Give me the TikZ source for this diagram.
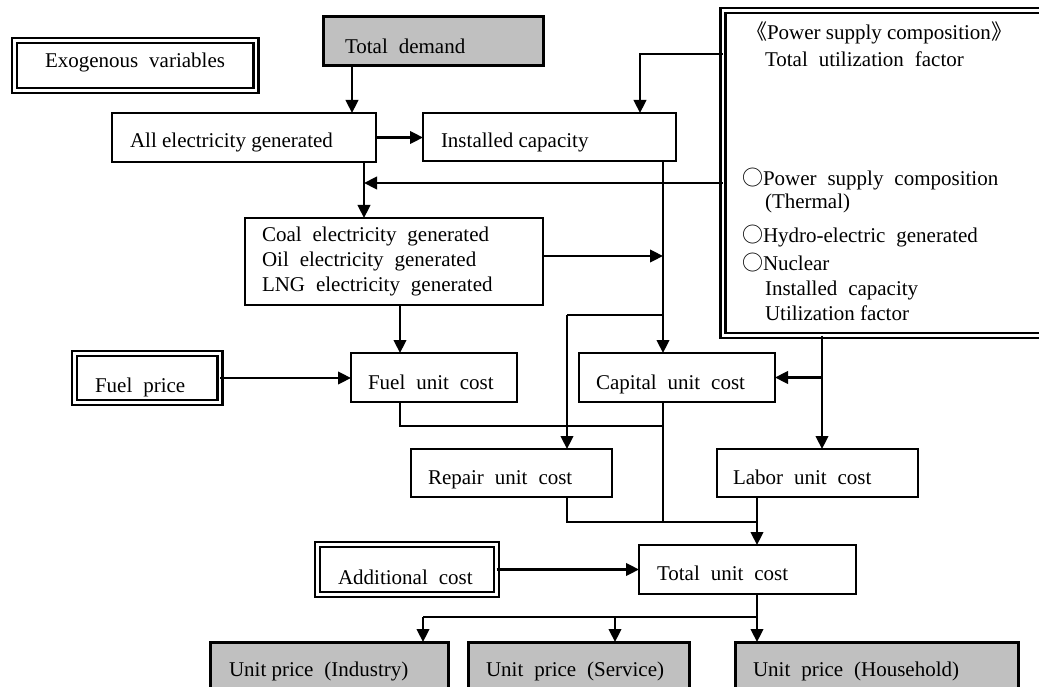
\documentclass[tikz,border=0pt]{standalone}
\usepackage{fontspec}
\setmainfont{Liberation Serif}
\newfontfamily\cjk{Noto Sans CJK JP}
\usetikzlibrary{arrows.meta}
\definecolor{boxgray}{RGB}{192,192,192}
\newcommand\W{\spaceskip=0.52em plus 0.1em minus 0.1em\relax}
\newcommand\N{\spaceskip=0.25em plus 0.1em minus 0.05em\relax}
\begin{document}
\begin{tikzpicture}[x=1pt,y=-1pt,
  every node/.style={font=\fontsize{21pt}{25pt}\selectfont, outer sep=0pt},
  bx/.style={draw, line width=1.3pt, rectangle, anchor=north west, align=left, inner ysep=0pt, fill=white},
  gbx/.style={bx, fill=boxgray, line width=3pt},
  dbx/.style={bx, double, double distance=2.6pt, line width=2.3pt},
  tb/.style 2 args={text height=#1, text depth=#2},
  arr/.style={line width=2.4pt, -{Triangle[length=13pt,width=12.5pt]}},
  ln/.style={line width=1.4pt},
  txt/.style={anchor=base west, inner sep=0pt}
]
\useasboundingbox (0,0) rectangle (1039,687);

% ---------- boxes ----------
\node[dbx, tb={22.5pt}{17.5pt}, minimum height=50pt, inner xsep=30.5pt, text width=180.5pt] (exo) at (14.5,40.5) {\mbox{\W Exogenous variables}};
\node[gbx, tb={32pt}{8pt}, minimum height=49pt, inner xsep=22pt, text width=176pt] (td) at (323,16.7) {\mbox{\W Total demand}};
\node[bx, tb={30.5pt}{9.5pt}, minimum height=49pt, inner xsep=18pt, text width=228pt] (ae) at (112,113) {\mbox{\N All electricity generated}};
\node[bx, tb={31pt}{9pt}, minimum height=48pt, inner xsep=18pt, text width=217pt] (ic) at (423,113) {\mbox{\N Installed capacity}};
\node[bx, minimum height=87pt, inner xsep=17pt, text width=264pt] (coal) at (245,218)
  {\mbox{\W Coal electricity generated}\\\mbox{\W Oil electricity generated}\\\mbox{\W LNG electricity generated}};
\node[dbx, tb={34.3pt}{5.7pt}, minimum height=49pt, inner xsep=20.5pt, text width=104.5pt] (fp) at (74.5,353.5) {\mbox{\W Fuel price}};
\node[bx, tb={31.5pt}{8.5pt}, minimum height=49pt, inner xsep=17pt, text width=132pt] (fuc) at (351,353) {\mbox{\W Fuel unit cost}};
\node[bx, tb={31.5pt}{8.5pt}, minimum height=49pt, inner xsep=17pt, text width=162pt] (cap) at (579,353) {\mbox{\W Capital unit cost}};
\node[bx, tb={31.3pt}{8.7pt}, minimum height=48pt, inner xsep=17pt, text width=167pt] (rep) at (411,449) {\mbox{\W Repair unit cost}};
\node[bx, tb={31.3pt}{8.7pt}, minimum height=48pt, inner xsep=16pt, text width=169pt] (lab) at (717,449) {\mbox{\W Labor unit cost}};
\node[dbx, tb={34.5pt}{5.5pt}, minimum height=50pt, inner xsep=20.5pt, text width=138pt] (ac) at (317.5,544.5) {\mbox{\W Additional cost}};
\node[bx, tb={30.5pt}{9.5pt}, minimum height=49pt, inner xsep=18pt, text width=181pt] (tuc) at (639,545) {\mbox{\W Total unit cost}};
\node[gbx, tb={23.7pt}{16.3pt}, minimum height=62pt, inner xsep=19pt, text width=200pt] (ind) at (210,642) {\mbox{{\N Unit price}\W{} (Industry)}};
\node[gbx, tb={23.7pt}{16.3pt}, minimum height=62pt, inner xsep=18pt, text width=185pt] (ser) at (468,642) {\mbox{\W Unit price (Service)}};
\node[gbx, tb={23.7pt}{16.3pt}, minimum height=62pt, inner xsep=18pt, text width=247pt] (hh) at (735,642) {\mbox{\W Unit price (Household)}};

% ---------- power supply composition box ----------
\node[dbx, minimum width=322pt, minimum height=325pt, inner sep=0pt] (psc) at (723,10.5) {};
\node[txt] (p1) at (746,39.3) {\N{\cjk 《}Power supply composition{\cjk 》}};
\node[txt] (p2) at (765,66.7) {\W Total utilization factor};
\node[txt] (p3) at (742,185.7) {\W{\cjk ○}Power supply composition};
\node[txt] (p4) at (765,209) {(Thermal)};
\node[txt] (p5) at (742,243) {\W{\cjk ○}Hydro-electric generated};
\node[txt] (p6) at (742,270.7) {{\cjk ○}Nuclear};
\node[txt] (p7) at (765,295) {\W Installed capacity};
\node[txt] (p8) at (765,320) {\N Utilization factor};

% ---------- reference coordinates ----------
\coordinate (xTD) at (352,0);
\coordinate (xAE) at (364,0);
\coordinate (xFB) at (640,0);
\coordinate (xCap) at (663,0);
\coordinate (xF) at (400,0);
\coordinate (xRep) at (567,0);
\coordinate (xPSC) at (822,0);
\coordinate (xLab) at (757,0);
\coordinate (xInd) at (423,0);
\coordinate (xSer) at (615,0);
\coordinate (yFB1) at (0,54);
\coordinate (yFB2) at (0,183);
\coordinate (yCoal) at (0,256);
\coordinate (yR) at (0,315);
\coordinate (yF) at (0,426);
\coordinate (yS) at (0,522);
\coordinate (yU) at (0,617);

% ---------- connectors ----------
\draw[arr] (td.south -| xTD) -- (ae.north -| xTD);
\draw[arr] (ae.east) -- (ae.east -| ic.west);
\draw[arr] (psc.west |- yFB1) -| (ic.north -| xFB);
\draw[arr] (ae.south -| xAE) -- (coal.north -| xAE);
\draw[arr] (psc.west |- yFB2) -- (xAE |- yFB2);
\draw[arr] (ic.south -| xCap) -- (cap.north -| xCap);
\draw[arr] (coal.east |- yCoal) -- (xCap |- yCoal);
\draw[ln] (xCap |- yR) -- (xRep |- yR);
\draw[arr] (xRep |- yR) -- (rep.north -| xRep);
\draw[arr] (coal.south -| xF) -- (fuc.north -| xF);
\draw[arr] (fp.east) -- (fp.east -| fuc.west);
\draw[ln] (fuc.south -| xF) |- (xCap |- yF);
\draw[ln] (cap.south -| xCap) -- (xCap |- yS);
\draw[ln] (rep.south -| xRep) |- (xLab |- yS);
\draw[arr] (psc.south -| xPSC) -- (lab.north -| xPSC);
\draw[arr] (xPSC |- cap.east) -- (cap.east);
\draw[arr] (lab.south -| xLab) -- (tuc.north -| xLab);
\draw[arr] (ac.east) -- (ac.east -| tuc.west);
\draw[arr] (tuc.south -| xLab) -- (hh.north -| xLab);
\draw[ln] (xLab |- yU) -- (xInd |- yU);
\draw[arr] (xInd |- yU) -- (ind.north -| xInd);
\draw[arr] (xSer |- yU) -- (ser.north -| xSer);
\end{tikzpicture}
\end{document}
